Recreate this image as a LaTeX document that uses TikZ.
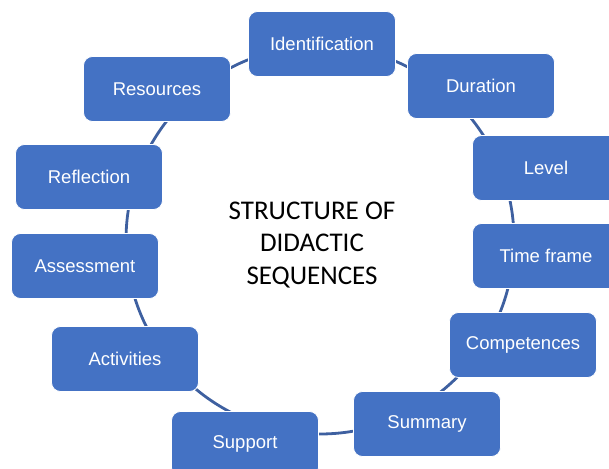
\documentclass[tikz,border=0pt]{standalone}
\usepackage{fontspec}
\setmainfont{Liberation Sans}
\newfontfamily\calib{Carlito}
\definecolor{boxblue}{RGB}{68,114,196}
\definecolor{ringblue}{RGB}{62,96,160}
\begin{document}
\begin{tikzpicture}[x=1pt,y=-1pt,
  box/.style={rectangle, rounded corners=9pt, fill=boxblue, draw=white, line width=0.8pt,
    minimum width=147pt, minimum height=65pt, text=white, inner sep=0pt,
    font=\fontsize{18.5}{22}\selectfont},
  ring/.style={draw=ringblue, line width=2.8pt}]
\useasboundingbox (0,0) rectangle (609,468);
\clip (0,0) rectangle (609,468);
\coordinate (hub) at (320,240);
\draw[ring] (hub) circle[radius=194pt];
\node[box] (ident)  at (322,44)  {Identification};
\node[box] (dur)    at (481,86)  {Duration};
\node[box] (level)  at (546,168) {Level};
\node[box] (time)   at (546,256) {Time frame};
\node[box] (comp)   at (523,345) {Competences};
\node[box] (summ)   at (427,424) {Summary};
\node[box] (supp)   at (245,444) {Support};
\node[box] (act)    at (125,359) {Activities};
\node[box] (assess) at (85,266)  {Assessment};
\node[box] (refl)   at (89,177)  {Reflection};
\node[box] (res)    at (157,89)  {Resources};
\node[font=\calib\fontsize{27}{32.5}\selectfont, align=center, inner sep=0pt] (title) at (312,245)
  {STRUCTURE OF\\DIDACTIC\\SEQUENCES};
\end{tikzpicture}
\end{document}
